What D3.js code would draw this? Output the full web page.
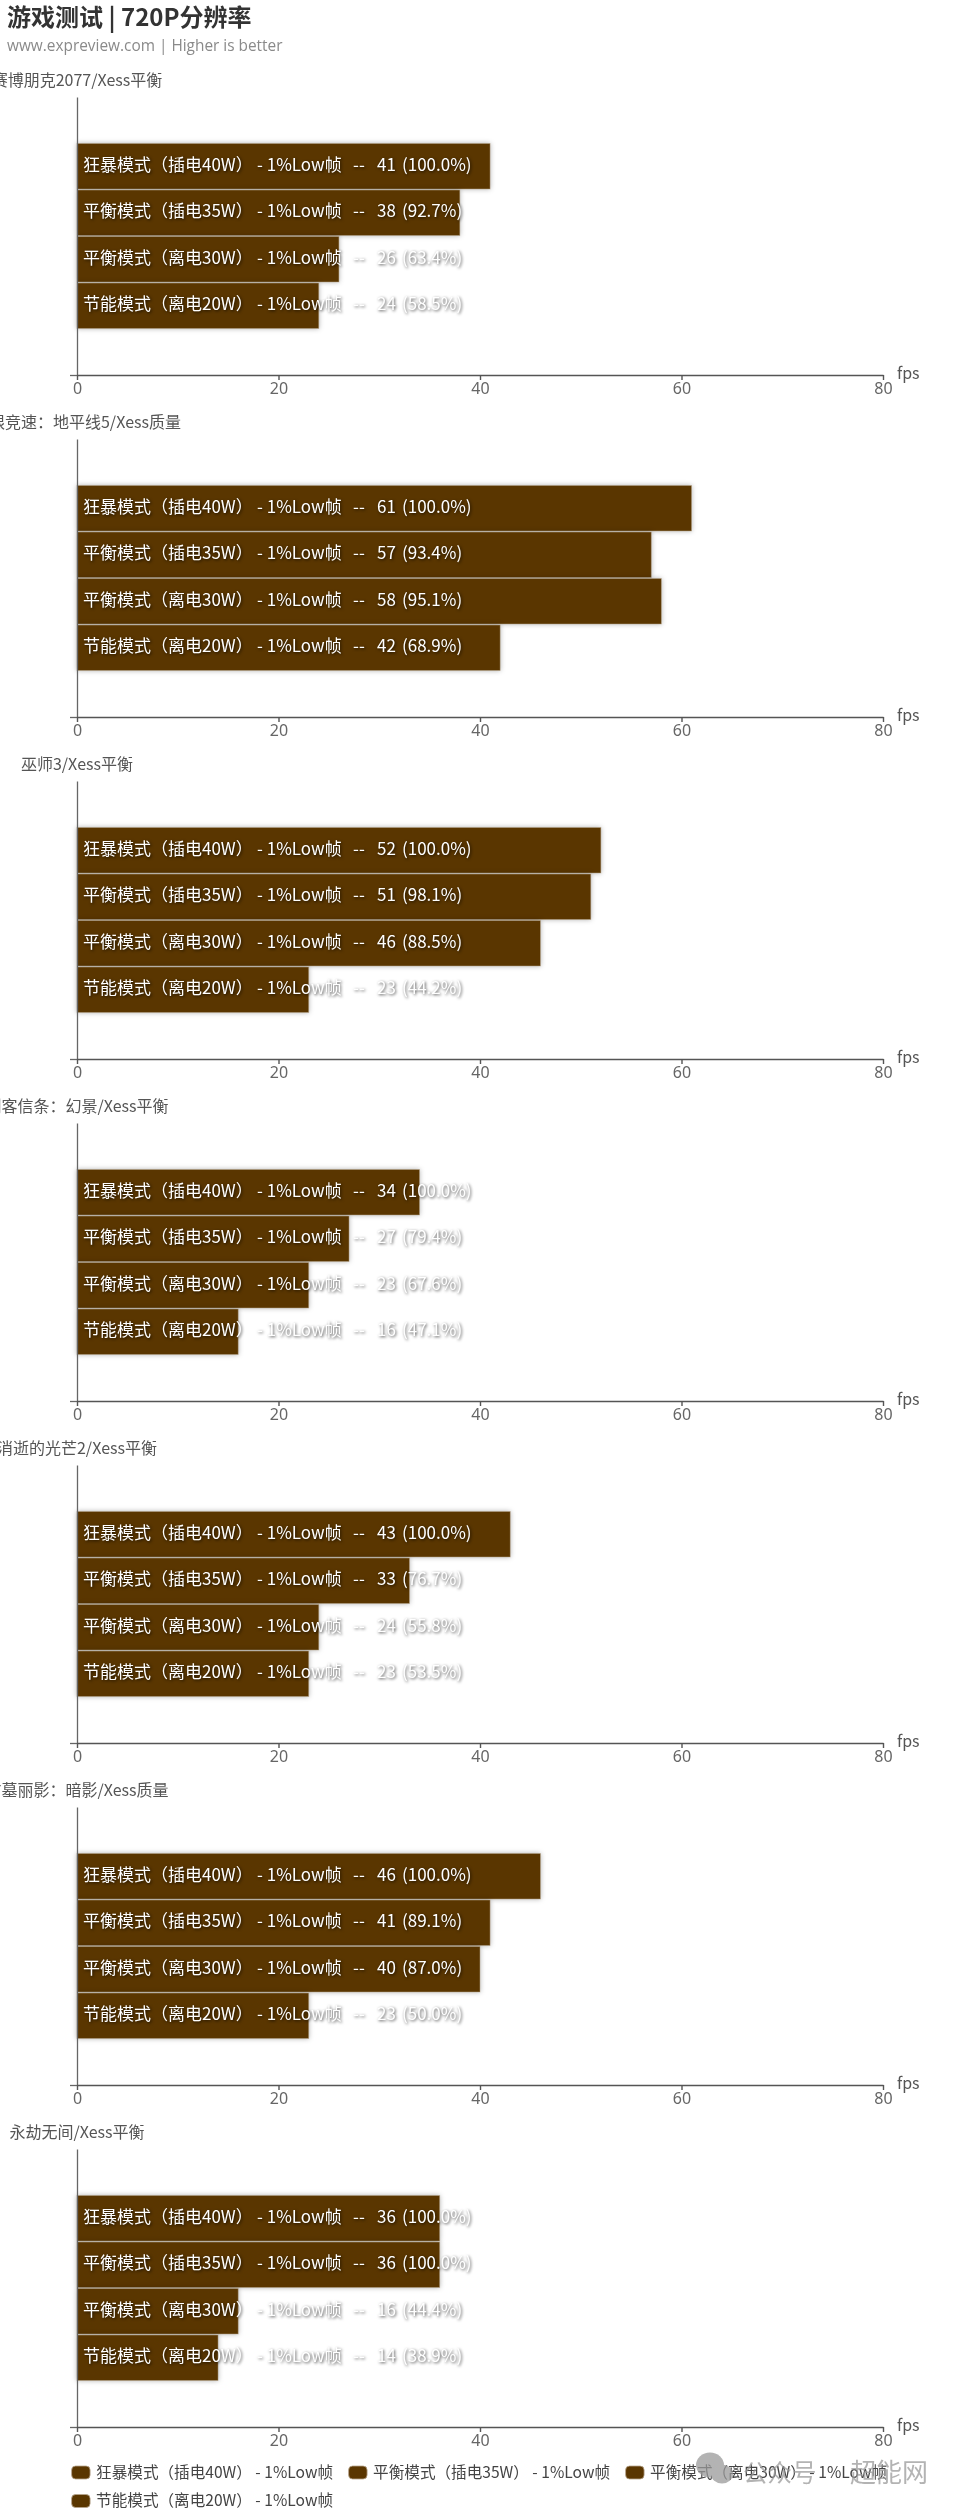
<!DOCTYPE html>
<html><head><meta charset="utf-8">
<script src="https://cdn.jsdelivr.net/npm/d3@7"></script>
<style>
html,body{margin:0;padding:0;background:#fff;overflow:hidden}
svg{display:block;font-family:"Noto Sans CJK SC","Noto Sans",sans-serif;filter:blur(.45px)}
.barlabel{filter:drop-shadow(1px 1px 1.6px rgba(0,0,0,.7))}
.bar{filter:drop-shadow(0 0 2.5px rgba(0,0,0,.3))}
</style></head><body>
<script>
const chartTitle = "游戏测试 | 720P分辨率";
const chartSubtitle = "www.expreview.com | Higher is better";
const games = ["赛博朋克2077/Xess平衡","极限竞速：地平线5/Xess质量","巫师3/Xess平衡","刺客信条：幻景/Xess平衡","消逝的光芒2/Xess平衡","古墓丽影：暗影/Xess质量","永劫无间/Xess平衡"];
const modes = ["狂暴模式（插电40W）","平衡模式（插电35W）","平衡模式（离电30W）","节能模式（离电20W）"];
const metric = "- 1%Low帧";
const cyberpunk = [41,38,26,24];
const horizon = [61,57,58,42];
const witcher = [52,51,46,23];
const assassin = [34,27,23,16];
const dyingLight = [43,33,24,23];
const tombRaider = [46,41,40,23];
const naraka = [36,36,16,14];
const allValues = [cyberpunk,horizon,witcher,assassin,dyingLight,tombRaider,naraka];
const xTicks = [0,20,40,60,80];
const xUnit = "fps";
const watermarkLeft = "公众号";
const watermarkRight = "超能网";

const W=960,H=2508,step=342,barColor="#5a3600",edge="#b8a68e";
const svg=d3.select("body").append("svg").attr("width",W).attr("height",H);
const x=d3.scaleLinear().domain([0,80]).range([77,883]);
const y=d3.scaleBand().domain(modes).range([143,329]);
const pct=d3.format(".1f");

svg.append("text").attr("x",7).attr("y",26).attr("font-size",24).attr("font-weight",700).attr("fill","#333").text(chartTitle);
svg.append("text").attr("x",7).attr("y",51).attr("font-size",15.4).attr("fill","#8a8a8a").style("font-family",'"Open Sans","Noto Sans CJK SC"').text(chartSubtitle);

allValues.forEach((vals,i)=>{
  const g=svg.append("g").attr("transform",`translate(0,${i*step})`);
  g.append("text").attr("x",77).attr("y",86).attr("text-anchor","middle").attr("font-size",16).attr("fill","#555").text(games[i]);

  const rows=modes.map((m,j)=>({m,v:vals[j],p:vals[j]/vals[0]*100}));
  g.selectAll("rect.bar").data(rows).join("rect").attr("class","bar")
    .attr("x",x(0)).attr("y",d=>y(d.m)+.5).attr("width",d=>x(d.v)-x(0)).attr("height",y.bandwidth()-1)
    .attr("fill",barColor).attr("stroke",edge).attr("stroke-width",.8).attr("stroke-opacity",.6);

  const yAxis=d3.axisLeft(d3.scaleLinear().domain([0,1]).range([375,97])).tickValues([0]).tickFormat("").tickSizeInner(7).tickSizeOuter(0);
  const ya=g.append("g").attr("transform",`translate(${x(0)},0)`).call(yAxis);
  ya.selectAll("path,line").attr("stroke","#666").attr("stroke-width",1.3);

  const xa=g.append("g").attr("transform","translate(0,375)").call(d3.axisBottom(x).tickValues(xTicks).tickSizeInner(5).tickSizeOuter(0).tickPadding(3));
  xa.selectAll("path,line").attr("stroke","#555").attr("stroke-width",1.4);
  xa.selectAll("text").attr("font-size",16).attr("fill","#666").style("font-family",'"Noto Sans","Noto Sans CJK SC"');
  g.append("text").attr("x",897).attr("y",379).attr("font-size",16).attr("fill","#555").text(xUnit);

  const lab=g.selectAll("text.barlabel").data(rows).join("text").attr("class","barlabel")
    .attr("y",d=>y(d.m)+y.bandwidth()/2-1.5).attr("dy","0.35em").attr("font-size",17).attr("fill","#fff");
  lab.append("tspan").attr("x",83).text(d=>d.m);
  lab.append("tspan").attr("x",257).text(metric);
  lab.append("tspan").attr("x",353).text("--");
  lab.append("tspan").attr("x",377).text(d=>d.v);
  lab.append("tspan").attr("x",402).text(d=>`(${pct(d.p)}%)`);
});

const lg=svg.append("g");
const item=lg.selectAll("g").data(modes).join("g").attr("transform",(d,i)=>`translate(${71.6+277*(i%3)},${2472.5+28.5*Math.floor(i/3)})`);
item.append("rect").attr("y",-6.5).attr("width",18.5).attr("height",13).attr("rx",4).attr("fill",barColor).attr("stroke",edge).attr("stroke-width",.8);
item.append("text").attr("x",24.5).attr("dy","0.33em").attr("font-size",15.6).attr("fill","#444").text(d=>d+" "+metric);

const wm=svg.append("g").attr("fill","#9a9a9a").attr("opacity",.75);
wm.append("ellipse").attr("cx",710).attr("cy",2465).attr("rx",14).attr("ry",12.5);
wm.append("ellipse").attr("cx",722).attr("cy",2474).attr("rx",11).attr("ry",9.5);
wm.append("text").attr("x",743).attr("y",2482).attr("font-size",24.5).text(watermarkLeft);
wm.append("text").attr("x",850).attr("y",2482).attr("font-size",26).text(watermarkRight);
</script>
</body></html>
